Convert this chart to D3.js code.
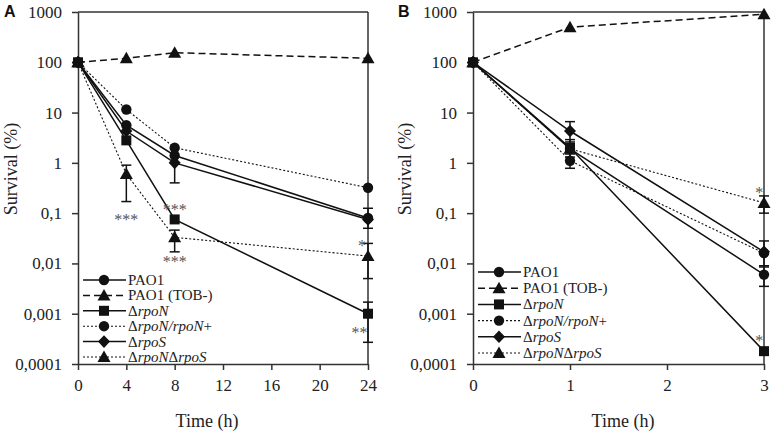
<!DOCTYPE html>
<html><head><meta charset="utf-8">
<script src="https://cdn.jsdelivr.net/npm/d3@7"></script>
<style>
html,body{margin:0;padding:0;background:#fff;}
svg{display:block;}
text{font-family:"Liberation Serif","Times New Roman",serif;}
text.letter{font-family:"Liberation Sans",Arial,sans-serif;font-weight:bold;}
</style></head>
<body>
<svg id="chart" width="773" height="434"></svg>
<script>
// ---------- DATA ----------
const seriesNames = ["PAO1", "PAO1 (TOB-)", "ΔrpoN", "ΔrpoN/rpoN+", "ΔrpoS", "ΔrpoNΔrpoS"];
const yTickValues = [0.0001, 0.001, 0.01, 0.1, 1, 10, 100, 1000];
const yTickLabels = ["0,0001", "0,001", "0,01", "0,1", "1", "10", "100", "1000"];

const timesA = [0, 4, 8, 24];
const xTicksA = [0, 4, 8, 12, 16, 20, 24];
const pao1A      = [100, 5.6, 1.4, 0.08];
const tobA       = [100, 120, 155, 120];
const rpoNA      = [100, 2.8, 0.075, 0.001];
const rpoNcompA  = [100, 11.5, 2.0, 0.32];
const rpoSA      = [100, 4.3, 1.0, 0.075];
const rpoNrpoSA  = [100, 0.6, 0.033, 0.014];
// error bars: [seriesIndex, time, low, high]
const errA = [
  [5, 4, 0.17, 0.9],
  [4, 8, 0.4, 1.0],
  [5, 8, 0.017, 0.046],
  [0, 24, 0.05, 0.125],
  [5, 24, 0.005, 0.025],
  [2, 24, 0.00027, 0.0017]
];
// significance marks: [text, time, value]
const sigA = [["***", 4, 0.085], ["***", 8, 0.13], ["***", 8, 0.012], ["*", 23.5, 0.025], ["**", 23.3, 0.00048]];

const timesB = [0, 1, 3];
const xTicksB = [0, 1, 2, 3];
const pao1B      = [100, 1.9, 0.006];
const tobB       = [100, 500, 900];
const rpoNB      = [100, 2.0, 0.00018];
const rpoNcompB  = [100, 1.1, 0.016];
const rpoSB      = [100, 4.3, 0.017];
const rpoNrpoSB  = [100, 1.9, 0.16];
const errB = [
  [4, 1, 2.6, 6.6],
  [0, 1, 1.3, 2.9],
  [3, 1, 0.78, 1.5],
  [5, 3, 0.1, 0.22],
  [4, 3, 0.009, 0.028],
  [0, 3, 0.0035, 0.0085]
];
const sigB = [["*", 2.95, 0.29], ["*", 2.95, 0.00033]];

// ---------- STYLE ----------
const markerOf = ["circle", "triangle", "square", "circle", "diamond", "triangle"];
const dashOf = ["", "7,4", "", "2,2", "", "2,2"];
const widthOf = [1.5, 1.5, 1.5, 1.1, 1.5, 1.1];

function shapePath(t) {
  if (t === "circle") return d3.symbol(d3.symbolCircle, Math.PI * 27)();
  if (t === "square") return "M-5,-5h10v10h-10Z";
  if (t === "triangle") return "M0,-6.5L6.5,5L-6.5,5Z";
  return "M0,-6.3L6,0L0,6.3L-6,0Z";
}

const svg = d3.select("#chart");
const ink = "#111";

function panel(opts) {
  const g = svg.append("g");
  const x = d3.scaleLinear().domain(opts.xDomain).range(opts.xRange);
  const y = d3.scaleLog().domain([0.0001, 1000]).range([364, 12]);
  const [x0, x1] = opts.xRange;

  g.append("line").attr("x1", x0).attr("x2", x1).attr("y1", 12).attr("y2", 12)
    .attr("stroke", "#333").attr("stroke-width", 1.5);
  g.append("line").attr("x1", x1).attr("x2", x1).attr("y1", 12).attr("y2", 364)
    .attr("stroke", "#333").attr("stroke-width", 1.5);

  const ya = g.append("g").attr("transform", `translate(${x0},0)`)
    .call(d3.axisLeft(y).tickValues(yTickValues)
      .tickFormat((d, i) => yTickLabels[i]).tickSize(6).tickSizeOuter(0).tickPadding(10));
  ya.select(".domain").attr("stroke", "#333").attr("stroke-width", 1.5);
  ya.selectAll(".tick line").attr("stroke", "#333").attr("stroke-width", 1.5);
  ya.selectAll(".tick text").attr("font-size", 17).attr("fill", "#222");

  const xa = g.append("g").attr("transform", `translate(0,364)`)
    .call(d3.axisBottom(x).tickValues(opts.xTicks).tickFormat(d3.format("d"))
      .tickSize(6).tickSizeOuter(0).tickPadding(9));
  xa.select(".domain").attr("stroke", "#333").attr("stroke-width", 1.5);
  xa.selectAll(".tick line").attr("stroke", "#333").attr("stroke-width", 1.5);
  xa.selectAll(".tick text").attr("font-size", 17).attr("fill", "#222");

  g.append("text").attr("transform", `translate(${opts.yTitleX},169) rotate(-90)`)
    .attr("text-anchor", "middle").attr("font-size", 18).attr("fill", "#222").text("Survival (%)");
  g.append("text").attr("x", opts.xTitleX).attr("y", 427)
    .attr("text-anchor", "middle").attr("font-size", 18).attr("fill", "#222").text("Time (h)");
  g.append("text").attr("class", "letter").attr("x", opts.letterX).attr("y", 17)
    .attr("font-size", 16).attr("fill", "#111").text(opts.letter);

  const line = d3.line().x(d => x(d[0])).y(d => y(d[1]));
  const order = [3, 5, 0, 4, 2, 1];
  order.forEach(i => {
    const pts = opts.times.map((t, k) => [t, opts.series[i][k]]);
    g.append("path").attr("d", line(pts)).attr("fill", "none").attr("stroke", ink)
      .attr("stroke-width", widthOf[i]).attr("stroke-dasharray", dashOf[i] || null);
  });

  opts.err.forEach(([si, t, lo, hi]) => {
    const cx = x(t);
    g.append("line").attr("x1", cx).attr("x2", cx).attr("y1", y(lo)).attr("y2", y(hi))
      .attr("stroke", ink).attr("stroke-width", 1.5);
    [lo, hi].forEach(v => g.append("line").attr("x1", cx - 5).attr("x2", cx + 5)
      .attr("y1", y(v)).attr("y2", y(v)).attr("stroke", ink).attr("stroke-width", 1.5));
  });

  order.forEach(i => {
    opts.times.forEach((t, k) => {
      g.append("path").attr("d", shapePath(markerOf[i]))
        .attr("transform", `translate(${x(t)},${y(opts.series[i][k])})`).attr("fill", ink);
    });
  });

  opts.sig.forEach(([s, t, v]) => {
    g.append("text").attr("x", x(t)).attr("y", y(v) + 8).attr("text-anchor", "middle")
      .attr("font-size", 16).style("fill", "#555").text(s);
  });

  const lg = g.append("g");
  seriesNames.forEach((name, i) => {
    const ly = opts.legY + i * opts.legStep;
    lg.append("line").attr("x1", opts.legX).attr("x2", opts.legX + 43).attr("y1", ly).attr("y2", ly)
      .attr("stroke", ink).attr("stroke-width", widthOf[i]).attr("stroke-dasharray", dashOf[i] || null);
    lg.append("path").attr("d", shapePath(markerOf[i]))
      .attr("transform", `translate(${opts.legX + 21},${ly})`).attr("fill", ink);
    const tx = lg.append("text").attr("x", opts.legX + 45).attr("y", ly + 5)
      .attr("font-size", 15).attr("fill", "#222");
    if (i < 2) { tx.text(name); return; }
    const parts = name.split(/(Δ|\+)/).filter(p => p !== "");
    parts.forEach(p => {
      const sp = tx.append("tspan").text(p);
      if (p !== "Δ" && p !== "+") sp.attr("font-style", "italic");
    });
  });
}

panel({
  letter: "A", letterX: 4, xDomain: [0, 24], xRange: [78, 368], xTicks: xTicksA,
  times: timesA, series: [pao1A, tobA, rpoNA, rpoNcompA, rpoSA, rpoNrpoSA],
  err: errA, sig: sigA, yTitleX: 17, xTitleX: 207, legX: 83, legY: 280, legStep: 15.4
});
panel({
  letter: "B", letterX: 398, xDomain: [0, 3], xRange: [473, 764], xTicks: xTicksB,
  times: timesB, series: [pao1B, tobB, rpoNB, rpoNcompB, rpoSB, rpoNrpoSB],
  err: errB, sig: sigB, yTitleX: 411, xTitleX: 623, legX: 478, legY: 272, legStep: 16.2
});
</script>
</body></html>
